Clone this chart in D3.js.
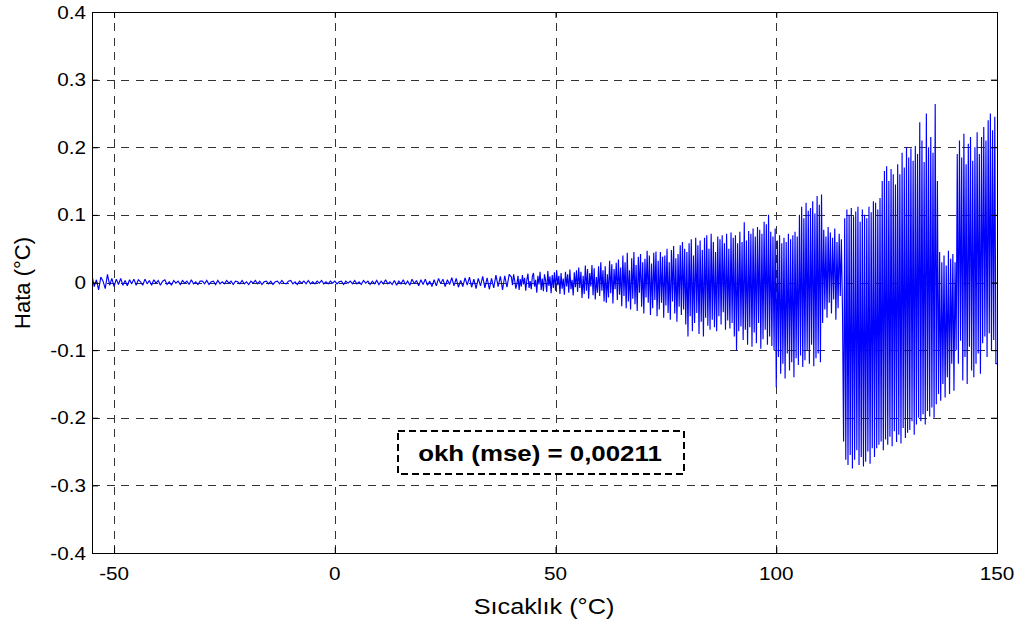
<!DOCTYPE html>
<html>
<head>
<meta charset="utf-8">
<script src="https://cdn.jsdelivr.net/npm/d3@7"></script>
<style>
  html, body { margin: 0; padding: 0; background: #fff; }
  svg { display: block; }
  text { font-family: "Liberation Sans", Arial, sans-serif; fill: #000; }
</style>
</head>
<body>
<svg id="chart" width="1025" height="630"></svg>
<script>
// Model error (°C) sampled every 0.5 °C, -55 .. -0.5 °C
const errCold = [
  0.010,-0.006,0.004,-0.011,0.008,0.002,-0.009,0.012,-0.004,0.006,
  -0.006,0.005,-0.003,0.006,-0.004,0.003,-0.005,0.004,-0.002,0.005,
  -0.004,0.004,0.001,-0.004,0.005,-0.002,0.003,-0.004,0.004,-0.001,
  0.003,-0.004,0.002,0.004,-0.003,0.001,-0.004,0.003,-0.001,0.002,
  -0.003,0.003,-0.001,0.002,-0.003,0.004,-0.002,0.001,-0.003,0.002,
  0.002,-0.002,0.003,-0.003,0.001,0.002,-0.003,0.003,-0.002,0.001,
  -0.002,0.003,-0.001,0.002,-0.003,0.002,0.001,-0.002,0.003,-0.002,
  0.001,-0.003,0.002,-0.001,0.003,-0.002,0.002,-0.003,0.001,0.002,
  -0.002,0.002,-0.003,0.001,0.002,-0.002,0.003,-0.001,-0.002,0.002,
  0.003,-0.002,0.001,-0.003,0.002,-0.001,0.002,-0.002,0.003,-0.002,
  0.001,-0.002,0.002,-0.001,0.003,-0.002,0.001,-0.002,0.002,-0.001
];

// Model error (°C) sampled every 0.5 °C, 0 .. 39.5 °C
const errMild = [
  0.002,-0.002,0.001,0.002,-0.003,0.002,-0.001,0.002,-0.002,0.003,
  -0.002,0.001,-0.003,0.003,-0.001,0.002,-0.003,0.002,-0.002,0.003,
  -0.003,0.002,-0.002,0.004,-0.002,0.001,-0.003,0.003,-0.004,0.002,
  -0.002,0.004,-0.003,0.002,-0.004,0.005,-0.002,0.003,-0.005,0.004,
  -0.003,0.005,-0.004,0.002,-0.006,0.004,-0.005,0.006,-0.002,0.005,
  -0.006,0.004,-0.003,0.007,-0.005,0.006,-0.007,0.003,-0.006,0.007,
  -0.004,0.008,-0.007,0.005,-0.009,0.006,-0.005,0.009,-0.008,0.007,
  -0.010,0.006,-0.008,0.011,-0.006,0.009,-0.011,0.010,-0.007,0.012
];

// Model error (°C) sampled every 0.25 °C, 40 .. 99.75 °C
const errWarm = [
  0.008,-0.004,0.012,0.003,-0.009,-0.002,0.010,-0.011,0.005,-0.006,
  0.011,-0.003,0.007,-0.012,0.004,0.013,-0.008,0.002,-0.010,0.009,
  0.014,-0.006,0.004,-0.015,0.010,-0.003,0.016,-0.011,0.006,-0.013,
  0.012,0.003,-0.014,0.017,-0.005,0.009,-0.016,0.011,-0.008,0.015,
  -0.012,0.018,-0.004,0.010,-0.017,0.014,-0.009,0.006,-0.018,0.016,
  -0.006,0.012,-0.015,0.019,-0.010,0.004,-0.019,0.015,-0.007,0.018,
  -0.014,0.022,-0.008,0.016,-0.023,0.010,-0.017,0.025,-0.012,0.020,
  -0.024,0.014,-0.006,0.026,-0.019,0.021,-0.025,0.008,-0.015,0.024,
  -0.020,0.030,-0.012,0.018,-0.028,0.024,-0.030,0.012,-0.022,0.032,
  -0.016,0.027,-0.031,0.020,-0.010,0.029,-0.026,0.034,-0.018,0.022,
  -0.035,0.040,-0.020,0.030,-0.038,0.044,-0.028,0.018,-0.040,0.036,
  -0.024,0.045,-0.032,0.026,-0.042,0.038,-0.015,0.042,-0.036,0.030,
  -0.046,0.035,-0.022,0.047,-0.030,0.040,-0.048,0.028,-0.038,0.044,
  -0.026,0.046,-0.050,0.032,-0.040,0.045,-0.030,0.038,-0.052,0.040,
  -0.034,0.050,-0.045,0.030,-0.055,0.048,-0.028,0.054,-0.046,0.036,
  -0.058,0.042,-0.036,0.055,-0.048,0.060,-0.040,0.050,-0.062,0.045,
  -0.080,0.058,-0.050,0.064,-0.072,0.040,-0.060,0.066,-0.045,0.055,
  -0.076,0.062,-0.058,0.048,-0.080,0.066,-0.052,0.070,-0.064,0.050,
  -0.070,0.072,-0.055,0.060,-0.066,0.045,-0.072,0.068,-0.050,0.064,
  -0.062,0.070,-0.044,0.058,-0.070,0.072,-0.056,0.050,-0.068,0.074,
  -0.060,0.066,-0.080,0.070,-0.100,0.058,-0.072,0.075,-0.065,0.060,
  -0.085,0.089,-0.070,0.062,-0.092,0.076,-0.066,0.072,-0.095,0.080,
  -0.074,0.068,-0.090,0.082,-0.060,0.078,-0.098,0.072,-0.084,0.090,
  -0.070,0.086,-0.092,0.100,-0.080,0.075,-0.094,0.068,-0.100,0.080
];

// Model error (°C) sampled every 0.25 °C, 100 .. 150 °C
const errHot = [
  -0.155,0.062,-0.110,0.070,-0.135,0.058,-0.120,0.066,-0.142,0.060,
  -0.105,0.072,-0.130,0.064,-0.118,0.070,-0.140,0.075,-0.112,0.068,
  -0.122,0.100,-0.108,0.112,-0.125,0.095,-0.115,0.118,-0.100,0.106,
  -0.120,0.110,-0.092,0.120,-0.124,0.102,-0.112,0.128,-0.105,0.115,
  -0.118,0.130,-0.060,0.078,-0.040,0.068,-0.052,0.082,-0.030,0.074,
  -0.046,0.066,-0.025,0.080,-0.055,0.060,-0.038,0.072,-0.020,0.064,
  -0.040,-0.235,0.095,-0.262,0.108,-0.270,0.100,-0.255,0.110,-0.275,
  0.098,-0.262,0.105,-0.248,0.112,-0.270,0.090,-0.258,0.108,-0.272,
  0.100,-0.265,0.095,-0.250,0.112,-0.268,0.104,-0.245,0.120,-0.258,
  0.118,-0.245,0.108,-0.240,0.125,-0.235,0.150,-0.248,0.165,-0.232,
  0.172,-0.240,0.150,-0.228,0.168,-0.242,0.160,-0.220,0.145,-0.236,
  0.175,-0.225,0.160,-0.238,0.192,-0.215,0.170,-0.230,0.200,-0.222,
  0.185,-0.218,0.198,-0.205,0.180,-0.225,0.202,-0.210,0.190,-0.200,
  0.237,-0.205,0.210,-0.195,0.178,-0.210,0.250,-0.190,0.200,-0.198,
  0.215,-0.185,0.192,-0.200,0.264,-0.180,0.150,-0.165,0.045,-0.175,
  0.030,-0.150,0.040,-0.170,0.025,-0.140,0.047,-0.165,0.035,-0.120,
  0.042,-0.160,0.030,-0.100,0.190,-0.120,0.210,-0.086,0.185,-0.145,
  0.220,-0.110,0.175,-0.150,0.205,-0.095,0.215,-0.130,0.180,-0.140,
  0.200,-0.120,0.222,-0.105,0.190,-0.135,0.215,-0.090,0.230,-0.080,
  0.210,-0.110,0.240,-0.075,0.250,-0.100,0.225,-0.085,0.245,-0.120,
  -0.120
];

// Where each block of samples begins and its spacing (°C)
const segments = [
  { start: -55, step: 0.5, values: errCold },
  { start: 0, step: 0.5, values: errMild },
  { start: 40, step: 0.25, values: errWarm },
  { start: 100, step: 0.25, values: errHot }
];

// Axis ticks and texts
const xTicks = [-50, 0, 50, 100, 150];
const yTicks = [-0.4, -0.3, -0.2, -0.1, 0, 0.1, 0.2, 0.3, 0.4];
const xTitle = "Sıcaklık (°C)";
const yTitle = "Hata (°C)";
const noteText = "okh (mse) = 0,00211";

const series = segments.flatMap(s => s.values.map((e, i) => ({ t: s.start + i * s.step, e })));

const svg = d3.select("#chart");
const plot = { left: 92, right: 997, top: 12, bottom: 553 };
const stretch = 1.15;

const x = d3.scaleLinear().domain([-55, 150]).range([plot.left, plot.right]);
const y = d3.scaleLinear().domain([-0.4, 0.4]).range([plot.bottom, plot.top]);

svg.append("rect").attr("width", 1025).attr("height", 630).attr("fill", "#fff");

// dashed grid
const grid = svg.append("g").attr("stroke", "#333").attr("stroke-width", 1)
  .attr("stroke-dasharray", "8,6.5").attr("shape-rendering", "crispEdges");
grid.selectAll("line.gx").data(xTicks).join("line")
  .attr("x1", d => Math.round(x(d)) + 0.5).attr("x2", d => Math.round(x(d)) + 0.5)
  .attr("y1", plot.bottom).attr("y2", plot.top);
grid.selectAll("line.gy").data(yTicks).join("line")
  .attr("y1", d => Math.round(y(d)) + 0.5).attr("y2", d => Math.round(y(d)) + 0.5)
  .attr("x1", plot.left).attr("x2", plot.right);

// error trace
svg.append("clipPath").attr("id", "plotClip").append("rect")
  .attr("x", plot.left).attr("y", plot.top)
  .attr("width", plot.right - plot.left).attr("height", plot.bottom - plot.top);
svg.append("path").datum(series)
  .attr("clip-path", "url(#plotClip)")
  .attr("fill", "none").attr("stroke", "#0000ff").attr("stroke-width", 1.15)
  .attr("stroke-linejoin", "miter").attr("stroke-miterlimit", 2)
  .attr("d", d3.line().x(d => x(d.t)).y(d => y(d.e)));

// axes with inward ticks on all four sides
const tickLen = 6;
const fmtY = d => d === 0 ? "0" : d.toFixed(1);
const axB = svg.append("g").attr("transform", `translate(0,${plot.bottom})`)
  .call(d3.axisBottom(x).tickValues(xTicks).tickSize(-tickLen).tickFormat(""));
const axT = svg.append("g").attr("transform", `translate(0,${plot.top})`)
  .call(d3.axisTop(x).tickValues(xTicks).tickSize(-tickLen).tickFormat(""));
const axL = svg.append("g").attr("transform", `translate(${plot.left},0)`)
  .call(d3.axisLeft(y).tickValues(yTicks).tickSize(-tickLen).tickFormat(""));
const axR = svg.append("g").attr("transform", `translate(${plot.right},0)`)
  .call(d3.axisRight(y).tickValues(yTicks).tickSize(-tickLen).tickFormat(""));
[axB, axT, axL, axR].forEach(a => {
  a.select(".domain").remove();
  a.selectAll("line").attr("stroke", "#000");
});
svg.append("rect")
  .attr("x", plot.left + 0.5).attr("y", plot.top + 0.5)
  .attr("width", plot.right - plot.left).attr("height", plot.bottom - plot.top)
  .attr("fill", "none").attr("stroke", "#000").attr("stroke-width", 1);

// text helper with the figure's horizontal stretch
function label(px, py, str, size, anchor, weight) {
  return svg.append("text")
    .attr("transform", `translate(${px},${py}) scale(${stretch},1)`)
    .attr("text-anchor", anchor)
    .attr("font-size", size)
    .attr("font-weight", weight || "normal")
    .text(str);
}

xTicks.forEach(d => label(x(d), 580, String(d), 18, "middle"));
yTicks.forEach(d => label(86, y(d) + 6.5, fmtY(d), 18, "end"));

label(544, 614, xTitle, 22, "middle");
svg.append("text")
  .attr("transform", `translate(30,283) rotate(-90)`)
  .attr("text-anchor", "middle").attr("font-size", 22)
  .text(yTitle);

// annotation box
svg.append("rect")
  .attr("x", 398).attr("y", 431).attr("width", 286).attr("height", 43)
  .attr("fill", "#fff").attr("stroke", "#000").attr("stroke-width", 2)
  .attr("stroke-dasharray", "7,4");
label(540, 461, noteText, 22.5, "middle", "bold");
</script>
</body>
</html>
